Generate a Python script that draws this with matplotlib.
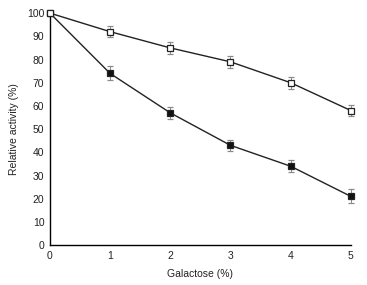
import matplotlib
matplotlib.use("Agg")
import matplotlib.pyplot as plt

plt.rcParams['font.family'] = ['Liberation Sans', 'DejaVu Sans']

galactose = [0, 1, 2, 3, 4, 5]
open_vals = [100, 92, 85, 79, 70, 58]
open_err = [0, 2.5, 2.5, 2.5, 2.5, 2.5]
filled_vals = [100, 74, 57, 43, 34, 21]
filled_err = [0, 3, 2.5, 2.5, 2.5, 3]

fig = plt.figure(figsize=(3.67, 2.85), dpi=100)
ax = fig.add_axes([0.136, 0.14, 0.82, 0.814])

for vals, err, face, z in [(open_vals, open_err, 'white', 3), (filled_vals, filled_err, '#111111', 2)]:
    line, caps, bars = ax.errorbar(galactose, vals, yerr=err, color='#222222', lw=1.0,
                                   marker='s', ms=5, mfc=face, mec='#222222', mew=0.9,
                                   ecolor='#8a8a8a', elinewidth=0.7, capsize=2, capthick=0.7, zorder=z)
    line.set_clip_on(False)
    for c in caps:
        c.set_clip_on(False)
    for b in bars:
        b.set_clip_on(False)

ax.set_xlim(0, 5)
ax.set_ylim(0, 100)
ax.set_xticks(galactose)
ax.set_yticks(range(0, 101, 10))
ax.tick_params(length=0, labelsize=7.5, colors='#222222', pad=4)
ax.spines['top'].set_visible(False)
ax.spines['right'].set_visible(False)
ax.spines['left'].set_linewidth(1.0)
ax.spines['bottom'].set_linewidth(1.0)
ax.set_xlabel('Galactose (%)', fontsize=7.5, color='#222222', labelpad=6)
ax.set_ylabel('Relative activity (%)', fontsize=7.5, color='#222222', labelpad=6)

fig.savefig('out.png', dpi=100)
